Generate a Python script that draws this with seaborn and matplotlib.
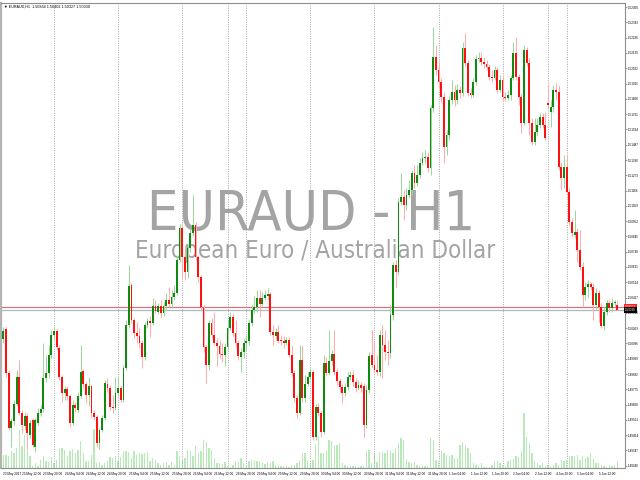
import numpy as np
import pandas as pd
import seaborn as sns
import matplotlib
matplotlib.use('Agg')
from matplotlib import pyplot as plt, font_manager, transforms

symbol = 'EURAUD'
period = 'H1'
description = 'European Euro / Australian Dollar'
year = 2017

# hourly bars, one block per trading day
day_names = ['23 May', '24 May', '25 May', '26 May', '28 May', '29 May',
             '30 May', '31 May', '1 Jun', '2 Jun', '4 Jun', '5 Jun']
day_first_hour = [5, 0, 0, 0, 17, 0, 0, 0, 0, 0, 17, 0]
day_bar_count = [19, 24, 24, 17, 7, 24, 24, 24, 24, 17, 7, 20]

opens = [
    1.50127, 1.50197, 1.49889, 1.49504, 1.49553, 1.49672, 1.49861, 1.49609, 1.49518, 1.49588,
    1.49455, 1.49560, 1.49371, 1.49539, 1.49609, 1.49637, 1.49854, 1.49889, 1.50015, 1.50155,
    1.50183, 1.50064, 1.49861, 1.49749, 1.49777, 1.49728, 1.49539, 1.49665, 1.49630, 1.49728,
    1.49903, 1.49812, 1.49735, 1.49798, 1.49609, 1.49581, 1.49399, 1.49490, 1.49574, 1.49812,
    1.49784, 1.49651, 1.49644, 1.49749, 1.49784, 1.49700, 1.49924, 1.50225, 1.50505, 1.50260,
    1.50169, 1.50148, 1.50099, 1.50001, 1.50225, 1.50253, 1.50239, 1.50358, 1.50316, 1.50358,
    1.50309, 1.50358, 1.50400, 1.50372, 1.50421, 1.50449, 1.50680, 1.50904, 1.50701, 1.50596,
    1.50764, 1.50869, 1.50925, 1.50701, 1.50561, 1.50344, 1.50071, 1.49945, 1.50239, 1.50155,
    1.50099, 1.50078, 1.50022, 1.50015, 1.50071, 1.50204, 1.50281, 1.50169, 1.50099, 1.50001,
    1.50036, 1.50099, 1.50113, 1.50239, 1.50330, 1.50351, 1.50414, 1.50372, 1.50414, 1.50428,
    1.50442, 1.50176, 1.50148, 1.50176, 1.50120, 1.50113, 1.50099, 1.50120, 1.50015, 1.49889,
    1.49714, 1.49609, 1.49980, 1.49714, 1.49812, 1.49861, 1.49896, 1.49441, 1.49651, 1.49609,
    1.49476, 1.49959, 1.49889, 1.49973, 1.50022, 1.49896, 1.49833, 1.49791, 1.49749, 1.49791,
    1.49861, 1.49875, 1.49826, 1.49784, 1.49805, 1.49798, 1.49525, 1.49770, 1.50015, 1.49945,
    1.49910, 1.49896, 1.50155, 1.50085, 1.50036, 1.50029, 1.50295, 1.50645, 1.50596, 1.51086,
    1.51121, 1.51065, 1.51135, 1.51170, 1.51289, 1.51219, 1.51275, 1.51359, 1.51394, 1.51401,
    1.51324, 1.51744, 1.52101, 1.52010, 1.51926, 1.51821, 1.51471, 1.51555, 1.51800, 1.51856,
    1.51800, 1.51870, 1.51849, 1.52164, 1.52059, 1.51849, 1.51835, 1.51926, 1.52087, 1.52094,
    1.52066, 1.52052, 1.52031, 1.51961, 1.51954, 1.52010, 1.51870, 1.51940, 1.51821, 1.51814,
    1.51835, 1.51954, 1.52129, 1.51961, 1.51821, 1.51639, 1.52150, 1.52059, 1.51639, 1.51506,
    1.51576, 1.51625, 1.51681, 1.51625, 1.51779, 1.51716, 1.51751, 1.51870, 1.51856, 1.51331,
    1.51254, 1.51331, 1.51156, 1.50946, 1.50855, 1.50876, 1.50750, 1.50631, 1.50435, 1.50491,
    1.50512, 1.50491, 1.50365, 1.50449, 1.50351, 1.50218, 1.50316, 1.50379, 1.50344, 1.50379,
    1.50364]

highs = [
    1.50211, 1.50211, 1.49910, 1.49574, 1.49700, 1.49910, 1.49980, 1.49630, 1.49616, 1.49609,
    1.49560, 1.49574, 1.49574, 1.49644, 1.49665, 1.50099, 1.50015, 1.50085, 1.50190, 1.50218,
    1.50197, 1.50085, 1.49875, 1.49798, 1.49798, 1.49742, 1.49700, 1.49686, 1.49756, 1.50085,
    1.49917, 1.49826, 1.49861, 1.49805, 1.49630, 1.49595, 1.49504, 1.49595, 1.49840, 1.49854,
    1.49805, 1.49735, 1.49861, 1.49861, 1.49805, 1.49945, 1.50260, 1.50645, 1.50519, 1.50274,
    1.50246, 1.50204, 1.50120, 1.50246, 1.50274, 1.50288, 1.50414, 1.50400, 1.50379, 1.50400,
    1.50386, 1.50449, 1.50491, 1.50470, 1.50505, 1.50715, 1.50932, 1.50925, 1.50785, 1.50785,
    1.50904, 1.51135, 1.50946, 1.50715, 1.50575, 1.50365, 1.50085, 1.50260, 1.50274, 1.50316,
    1.50134, 1.50120, 1.50099, 1.50099, 1.50260, 1.50316, 1.50309, 1.50260, 1.50120, 1.50064,
    1.50134, 1.50155, 1.50260, 1.50365, 1.50428, 1.50470, 1.50470, 1.50456, 1.50470, 1.50484,
    1.50456, 1.50225, 1.50204, 1.50225, 1.50155, 1.50148, 1.50141, 1.50141, 1.50085, 1.49910,
    1.49735, 1.50085, 1.50078, 1.49875, 1.49896, 1.49924, 1.49910, 1.49672, 1.49679, 1.49623,
    1.50015, 1.50001, 1.50190, 1.50050, 1.50190, 1.49924, 1.49854, 1.49812, 1.49819, 1.49896,
    1.49903, 1.49910, 1.49854, 1.49840, 1.49826, 1.49819, 1.49805, 1.50036, 1.50190, 1.50120,
    1.50015, 1.50190, 1.50225, 1.50190, 1.50120, 1.50365, 1.50666, 1.50680, 1.51114, 1.51289,
    1.51170, 1.51184, 1.51240, 1.51310, 1.51345, 1.51345, 1.51394, 1.51436, 1.51450, 1.51436,
    1.51765, 1.52311, 1.52185, 1.52066, 1.51954, 1.51856, 1.51590, 1.51828, 1.51940, 1.51905,
    1.51912, 1.51898, 1.52206, 1.52269, 1.52080, 1.51884, 1.51954, 1.52115, 1.52136, 1.52136,
    1.52101, 1.52080, 1.52052, 1.52010, 1.52038, 1.52031, 1.51975, 1.51968, 1.51856, 1.51870,
    1.51975, 1.52206, 1.52241, 1.51982, 1.51842, 1.52185, 1.52171, 1.52094, 1.51674, 1.51674,
    1.51674, 1.51709, 1.51709, 1.51716, 1.51905, 1.51800, 1.51905, 1.51919, 1.51905, 1.51366,
    1.51415, 1.51415, 1.51184, 1.50974, 1.51030, 1.50904, 1.50890, 1.50666, 1.50526, 1.50540,
    1.50526, 1.50519, 1.50484, 1.50470, 1.50379, 1.50351, 1.50400, 1.50400, 1.50414, 1.50400,
    1.50402]

lows = [
    1.50099, 1.49861, 1.49490, 1.49371, 1.49525, 1.49658, 1.49595, 1.49469, 1.49490, 1.49350,
    1.49434, 1.49371, 1.49336, 1.49525, 1.49588, 1.49616, 1.49826, 1.49854, 1.49994, 1.50134,
    1.50050, 1.49840, 1.49686, 1.49700, 1.49700, 1.49511, 1.49525, 1.49616, 1.49616, 1.49714,
    1.49784, 1.49679, 1.49658, 1.49581, 1.49560, 1.49371, 1.49357, 1.49476, 1.49560, 1.49756,
    1.49630, 1.49609, 1.49630, 1.49735, 1.49686, 1.49686, 1.49910, 1.50204, 1.50239, 1.50134,
    1.50099, 1.50064, 1.49924, 1.49980, 1.50204, 1.50141, 1.50225, 1.50309, 1.50302, 1.50274,
    1.50288, 1.50323, 1.50351, 1.50344, 1.50400, 1.50435, 1.50666, 1.50554, 1.50540, 1.50554,
    1.50736, 1.50848, 1.50680, 1.50526, 1.50330, 1.50036, 1.49819, 1.49910, 1.50134, 1.50085,
    1.49938, 1.49994, 1.49966, 1.49938, 1.50050, 1.50190, 1.50148, 1.50071, 1.49980, 1.49896,
    1.49994, 1.50050, 1.50085, 1.50218, 1.50309, 1.50316, 1.50281, 1.50358, 1.50400, 1.50400,
    1.50155, 1.50085, 1.50120, 1.50099, 1.50085, 1.50064, 1.50085, 1.50001, 1.49868, 1.49686,
    1.49574, 1.49595, 1.49686, 1.49686, 1.49798, 1.49840, 1.49420, 1.49420, 1.49588, 1.49441,
    1.49462, 1.49868, 1.49875, 1.49945, 1.49875, 1.49805, 1.49756, 1.49679, 1.49728, 1.49770,
    1.49840, 1.49798, 1.49756, 1.49770, 1.49756, 1.49441, 1.49504, 1.49749, 1.49924, 1.49896,
    1.49875, 1.49868, 1.49854, 1.49980, 1.49945, 1.49994, 1.50260, 1.50491, 1.50575, 1.51065,
    1.50960, 1.51030, 1.51114, 1.51135, 1.51184, 1.51198, 1.51254, 1.51345, 1.51359, 1.51296,
    1.51275, 1.51716, 1.51975, 1.51884, 1.51786, 1.51359, 1.51415, 1.51520, 1.51772, 1.51758,
    1.51772, 1.51814, 1.51828, 1.52038, 1.51828, 1.51814, 1.51821, 1.51905, 1.52066, 1.52045,
    1.52024, 1.52010, 1.51940, 1.51926, 1.51940, 1.51849, 1.51856, 1.51800, 1.51793, 1.51800,
    1.51800, 1.51940, 1.51940, 1.51765, 1.51569, 1.51625, 1.52038, 1.51555, 1.51485, 1.51485,
    1.51548, 1.51604, 1.51604, 1.51520, 1.51744, 1.51611, 1.51716, 1.51800, 1.51310, 1.51170,
    1.51184, 1.51135, 1.50925, 1.50841, 1.50834, 1.50666, 1.50610, 1.50351, 1.50400, 1.50414,
    1.50470, 1.50260, 1.50330, 1.50246, 1.50204, 1.50190, 1.50295, 1.50316, 1.50316, 1.50358,
    1.50327]

closes = [
    1.50183, 1.49889, 1.49504, 1.49553, 1.49672, 1.49861, 1.49609, 1.49525, 1.49588, 1.49469,
    1.49539, 1.49385, 1.49560, 1.49609, 1.49637, 1.49854, 1.49889, 1.50015, 1.50155, 1.50183,
    1.50071, 1.49861, 1.49749, 1.49777, 1.49728, 1.49539, 1.49665, 1.49644, 1.49728, 1.49896,
    1.49812, 1.49735, 1.49798, 1.49609, 1.49581, 1.49399, 1.49490, 1.49574, 1.49819, 1.49784,
    1.49651, 1.49644, 1.49749, 1.49784, 1.49700, 1.49924, 1.50225, 1.50498, 1.50260, 1.50169,
    1.50148, 1.50099, 1.50001, 1.50225, 1.50253, 1.50239, 1.50358, 1.50323, 1.50358, 1.50309,
    1.50358, 1.50400, 1.50372, 1.50421, 1.50449, 1.50680, 1.50904, 1.50701, 1.50596, 1.50764,
    1.50869, 1.50925, 1.50701, 1.50561, 1.50351, 1.50071, 1.49945, 1.50239, 1.50155, 1.50099,
    1.50078, 1.50022, 1.50015, 1.50071, 1.50204, 1.50281, 1.50169, 1.50099, 1.50008, 1.50036,
    1.50099, 1.50113, 1.50239, 1.50330, 1.50351, 1.50414, 1.50372, 1.50414, 1.50435, 1.50442,
    1.50176, 1.50155, 1.50176, 1.50113, 1.50113, 1.50099, 1.50120, 1.50015, 1.49889, 1.49714,
    1.49609, 1.49980, 1.49714, 1.49812, 1.49861, 1.49896, 1.49441, 1.49651, 1.49609, 1.49476,
    1.49959, 1.49889, 1.49973, 1.50022, 1.49896, 1.49833, 1.49791, 1.49749, 1.49791, 1.49861,
    1.49875, 1.49826, 1.49784, 1.49805, 1.49784, 1.49525, 1.49770, 1.50008, 1.49945, 1.49910,
    1.49896, 1.50155, 1.50085, 1.50036, 1.50029, 1.50295, 1.50645, 1.50596, 1.51086, 1.51121,
    1.51065, 1.51135, 1.51170, 1.51289, 1.51219, 1.51275, 1.51359, 1.51394, 1.51401, 1.51324,
    1.51744, 1.52101, 1.52010, 1.51926, 1.51821, 1.51471, 1.51555, 1.51800, 1.51856, 1.51800,
    1.51870, 1.51849, 1.52164, 1.52059, 1.51849, 1.51835, 1.51926, 1.52087, 1.52094, 1.52066,
    1.52052, 1.52031, 1.51961, 1.51954, 1.52010, 1.51870, 1.51940, 1.51821, 1.51814, 1.51835,
    1.51954, 1.52129, 1.51961, 1.51821, 1.51639, 1.52150, 1.52059, 1.51639, 1.51506, 1.51576,
    1.51625, 1.51681, 1.51625, 1.51534, 1.51765, 1.51751, 1.51870, 1.51856, 1.51331, 1.51254,
    1.51331, 1.51156, 1.50946, 1.50869, 1.50876, 1.50750, 1.50631, 1.50435, 1.50491, 1.50512,
    1.50491, 1.50365, 1.50449, 1.50351, 1.50218, 1.50316, 1.50379, 1.50344, 1.50379, 1.50386,
    1.50330]

volumes = [
    1330, 1330, 1230, 1670, 1500, 2000, 3830, 2170, 3330, 1670,
    1170, 230, 500, 230, 830, 1170, 670, 570, 1100, 500,
    830, 1900, 2000, 1770, 1170, 1670, 1900, 1500, 1770, 2670,
    1500, 670, 670, 1330, 3900, 500, 570, 330, 500, 670,
    1070, 1000, 1170, 670, 1100, 1670, 1670, 1570, 1000, 1670,
    1330, 1500, 1400, 1500, 1570, 670, 1000, 830, 500, 330,
    500, 570, 330, 570, 330, 1670, 1170, 830, 1000, 1830,
    1670, 1230, 2170, 1500, 1670, 2770, 2570, 2000, 1830, 1000,
    500, 500, 430, 570, 170, 100, 330, 670, 570, 1000,
    500, 170, 670, 830, 770, 670, 570, 500, 430, 570,
    500, 670, 330, 230, 170, 230, 170, 100, 330, 330,
    500, 670, 1500, 1500, 830, 500, 830, 2430, 3170, 1500,
    1500, 1670, 2830, 2670, 2230, 2330, 2500, 500, 330, 230,
    230, 170, 170, 70, 170, 230, 1670, 1830, 500, 1500,
    570, 1570, 1570, 1500, 1770, 1670, 1500, 2000, 2500, 3000,
    2770, 900, 570, 500, 570, 330, 230, 170, 170, 230,
    3000, 2830, 830, 670, 1670, 1500, 1330, 1170, 1330, 1000,
    1000, 2330, 2570, 2330, 2000, 1500, 500, 330, 230, 500,
    70, 100, 100, 330, 670, 670, 500, 330, 170, 670,
    830, 900, 1170, 1100, 1670, 5500, 3100, 2500, 1500, 670,
    500, 330, 500, 170, 330, 170, 330, 500, 330, 830,
    670, 830, 1170, 1170, 1100, 1330, 830, 1170, 1000, 1100,
    1500, 900, 500, 500, 330, 170, 100, 330, 170, 330,
    670]

ask_price = 1.50351
price_ticks = [1.52450, 1.52343, 1.52236, 1.52129, 1.52022, 1.51915, 1.51808, 1.51701,
               1.51594, 1.51487, 1.51380, 1.51273, 1.51166, 1.51059, 1.50952, 1.50845,
               1.50738, 1.50631, 1.50524, 1.50417, 1.50310, 1.50203, 1.50096, 1.49989,
               1.49882, 1.49775, 1.49668, 1.49561, 1.49454, 1.49347, 1.49240]

# ---------------- build frame ----------------
bar_day, bar_hour = [], []
for d, h0, n in zip(day_names, day_first_hour, day_bar_count):
    for j in range(n):
        bar_day.append(d)
        bar_hour.append(h0 + j)

df = pd.DataFrame({'day': bar_day, 'hour': bar_hour, 'open': opens, 'high': highs,
                   'low': lows, 'close': closes, 'volume': volumes})
df['bar'] = np.arange(len(df))
df['up'] = df['close'] >= df['open']

sns.set_style('white')
plt.rcParams['font.family'] = ['Liberation Sans', 'DejaVu Sans']

W, H = 640, 480
fig = plt.figure(figsize=(W / 100, H / 100), dpi=100)
fig.patch.set_facecolor('white')
rect = [1 / W, 12 / H, 624 / W, 465 / H]

bar_px = 2.67
x0 = -2.3 / bar_px
xlim = (x0, x0 + 624 / bar_px)
ylim = (1.49224, 1.52479)

# volumes underneath
axv = fig.add_axes(rect)
axv.set_facecolor('white')
sns.barplot(x=df['bar'], y=df['volume'], native_scale=True, color='#b9e9b9',
            saturation=1, width=0.5, errorbar=None, linewidth=0, ax=axv)
axv.set_xlim(xlim)
axv.set_ylim(0, 46500)
axv.axis('off')

# watermark
names = {f.name for f in font_manager.fontManager.ttflist}
wm_kw = {'family': 'Liberation Sans'}
if 'Liberation Sans Narrow' in names:
    wm_kw = {'family': 'Liberation Sans Narrow'}
elif any(f.name == 'DejaVu Sans' and 'condensed' in str(f.stretch) for f in font_manager.fontManager.ttflist):
    wm_kw = {'family': 'DejaVu Sans', 'stretch': 'condensed'}

t1 = axv.text(311 / W, 1 - 230 / H, f'{symbol} - {period}', transform=fig.transFigure,
              ha='center', va='baseline', color='#a4a4a4', fontsize=50, **wm_kw)
t2 = axv.text(315 / W, 1 - 258 / H, description, transform=fig.transFigure,
              ha='center', va='baseline', color='#a4a4a4', fontsize=20, **wm_kw)
fig.canvas.draw()
rend = fig.canvas.get_renderer()
for t, target in ((t1, 328), (t2, 360)):
    w = t.get_window_extent(rend).width
    t.set_fontsize(t.get_fontsize() * target / w)

# price chart on top
ax = fig.add_axes(rect)
ax.set_facecolor('none')
ax.set_xlim(xlim)
ax.set_ylim(ylim)

# day separators
day_starts = np.cumsum(day_bar_count)[:-1]
for s in day_starts:
    ax.axvline(s, color='#9a9a9a', lw=0.6, ls=(0, (1.2, 1.6)), zorder=1)

# bid / ask lines
bid = df['close'].iloc[-1]
ax.axhline(ask_price, color='#e86a6a', lw=0.8, zorder=1)
ax.axhline(bid, color='#b0b6c2', lw=0.9, zorder=1)

up = df[df['up']]
dn = df[~df['up']]
ax.vlines(up['bar'], up['low'], up['high'], color='#9ed89e', lw=0.75, zorder=2)
ax.vlines(dn['bar'], dn['low'], dn['high'], color='#ffacac', lw=0.75, zorder=2)
body_lo = np.minimum(df['open'], df['close'])
body_h = np.maximum((df['close'] - df['open']).abs(), 0.00004)
ax.bar(df['bar'], body_h, bottom=body_lo, width=0.68, linewidth=0,
       color=np.where(df['up'], '#0e8a0e', '#ff1010'), zorder=3)

# axes styling
for side in ['left', 'top', 'bottom', 'right']:
    ax.spines[side].set_color('#8c8c8c')
    ax.spines[side].set_linewidth(0.8)
ax.spines['left'].set_color('#b4b4b4')
ax.spines['left'].set_linewidth(1.6)

ax.yaxis.tick_right()
ax.set_yticks(price_ticks)
ax.set_yticklabels([f'{p:.5f}' for p in price_ticks])
ax.tick_params(axis='y', length=1.5, width=0.5, color='#707070', pad=0.4,
               labelsize=2.2, labelcolor='black')

lab_pos = [0] + list(range(7, len(df), 8))
lab_txt = []
for i in lab_pos:
    if i == 0:
        lab_txt.append(f'{df.day[i]} {year}')
    else:
        lab_txt.append(f'{df.day[i]} {df.hour[i]:02d}:00')
ax.set_xticks(lab_pos)
ax.set_xticklabels(lab_txt)
for lb in ax.get_xticklabels():
    lb.set_horizontalalignment('left')
ax.get_xticklabels()[0].set_x(-0.5)
ax.tick_params(axis='x', length=2, width=0.5, color='#707070', pad=1.2,
               labelsize=2.25, labelcolor='black')
ax.set_xlabel('')
ax.set_ylabel('')

# header
last = df.iloc[-1]
ax.text(4 / W, 1 - 7 / H, f'\u25bc {symbol},{period}  {last.open:.5f} {last.high:.5f} '
        f'{last.low:.5f} {last.close:.5f}', transform=fig.transFigure, ha='left',
        va='center', fontsize=2.7, color='black')

# price tags on the right axis
tr = transforms.blended_transform_factory(ax.transAxes, ax.transData)
ax.text(1.0, ask_price, f'{ask_price:.5f}', transform=tr, ha='left', va='center',
        fontsize=2.2, color='white', clip_on=False, zorder=5,
        bbox=dict(boxstyle='square,pad=0.3', fc='#ff2020', ec='none'))
ax.text(1.0, bid, f'{bid:.5f}', transform=tr, ha='left', va='center',
        fontsize=2.2, color='white', clip_on=False, zorder=6,
        bbox=dict(boxstyle='square,pad=0.3', fc='black', ec='none'))

fig.savefig('out.png', dpi=100, facecolor='white')
